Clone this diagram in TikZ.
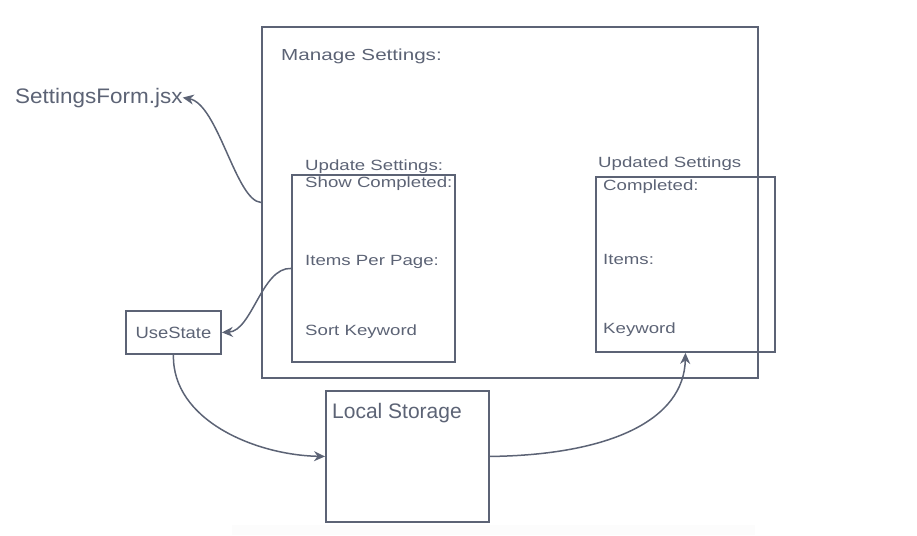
\documentclass[tikz,border=0pt]{standalone}
\usepackage{fontspec}
\setmainfont{Liberation Sans}
\usetikzlibrary{arrows.meta}
\definecolor{slate}{RGB}{92,99,117}
\newcommand{\sx}[2]{\scalebox{#1}[1]{#2}}

\begin{document}
\begin{tikzpicture}[x=1pt,y=-1pt,
	box/.style={draw=slate, line width=1.9pt, inner sep=0pt, anchor=north west, text=slate},
	lbl/.style={text=slate, inner sep=0pt, anchor=base west},
	small/.style={lbl, font=\fontsize{14.8}{16}\selectfont},
	big/.style={lbl, font=\fontsize{21}{24}\selectfont},
	flow/.style={draw=slate, line width=1.5pt, -{Stealth[length=11pt,width=10pt]}}]
		%%%%% START %%%%%
		\useasboundingbox (0,0) rectangle (917,535);
		\fill[black!1] (232,525) rectangle (755,535);
		
		\node[box, minimum width=496pt, minimum height=351pt] (manage) at (261,26) {};
		\node[box, minimum width=163pt, minimum height=187pt] (update) at (291,174) {};
		\node[box, minimum width=179pt, minimum height=175pt] (updated) at (595,176) {};
		\node[box, minimum width=95pt, minimum height=43pt, font=\fontsize{16.3}{18}\selectfont] (usestate) at (125,310) {\sx{1.13}{UseState}};
		\node[box, minimum width=163pt, minimum height=131pt] (storage) at (325,390) {};
		
		\node[lbl, font=\fontsize{16}{18}\selectfont] (manage-t) at (281,60.7) {\sx{1.29}{Manage Settings:}};
		\node[big] (form) at (15,103) {\sx{1.07}{SettingsForm.jsx}};
		\node[big] (storage-t) at (332,418) {Local Storage};
		
		\node[small] (update-t) at (305,170.7) {\sx{1.26}{Update Settings:}};
		\node[small] (show) at (305,187) {\sx{1.26}{Show Completed:}};
		\node[small] (perpage) at (305,265) {\sx{1.26}{Items Per Page:}};
		\node[small] (sortkey) at (305,335) {\sx{1.26}{Sort Keyword}};
		
		\node[small] (updated-t) at (598,167.3) {\sx{1.26}{Updated Settings}};
		\node[small] (completed) at (603,190) {\sx{1.26}{Completed:}};
		\node[small] (items) at (603,264) {\sx{1.26}{Items:}};
		\node[small] (keyword) at (603,333) {\sx{1.26}{Keyword}};
		
		\draw[flow] (manage.west) .. controls (236,201) and (218,104) .. (form.east);
		\draw[flow] (update.west) .. controls (262,267) and (252,331) .. (usestate.east);
		\draw[flow] (usestate.south) .. controls (172,420) and (255,455) .. (storage.west);
		\draw[flow] (storage.east) .. controls (610,455) and (684,420) .. (updated.south);
		%%%%% END %%%%%
\end{tikzpicture}
\end{document}
